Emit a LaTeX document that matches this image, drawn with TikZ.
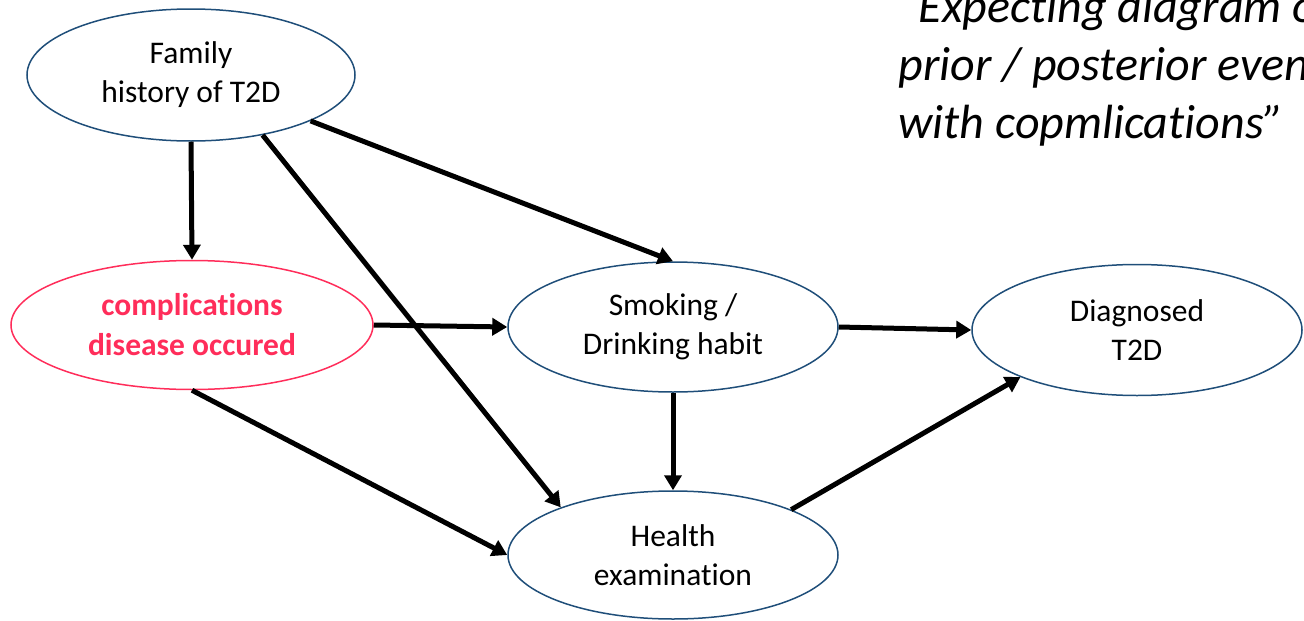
\documentclass[tikz,border=0pt]{standalone}
\usepackage{fontspec}
\setmainfont{Carlito}[Ligatures={NoCommon}]
\usetikzlibrary{shapes.geometric,arrows.meta}
\definecolor{edgeblue}{HTML}{1F4E79}
\definecolor{alertred}{HTML}{FF2D5A}
\begin{document}
\begin{tikzpicture}[x=1pt,y=-1pt,
  event/.style={ellipse, draw=edgeblue, line width=1.5pt, inner sep=0pt,
    align=center, minimum width=330pt, minimum height=130pt,
    font=\fontsize{31.5}{39}\selectfont},
  alert/.style={draw=alertred, text=alertred, font=\fontsize{31.5}{40}\selectfont\bfseries},
  link/.style={line width=5pt, -{Triangle[length=15pt,width=17pt]}},
  note/.style={anchor=base west, font=\fontsize{48}{58}\selectfont\itshape},
]
\useasboundingbox (0,0) rectangle (1304,621);
\clip (0,0) rectangle (1304,621);

% events
\node[event, minimum width=328pt, minimum height=132pt] (fam) at (191,75) {Family\\history of T2D};
\node[event, alert, minimum width=362pt, minimum height=129pt] (com) at (192,325) {complications\\disease occured};
\node[event] (smo) at (673,327) {Smoking /\\Drinking habit};
\node[event, minimum height=131pt] (dia) at (1137,330) {Diagnosed\\T2D};
\node[event, minimum height=128pt] (hea) at (673,555) {Health\\examination};

% side note
\node[note] (q1) at (895,22) {“Expecting diagram of};
\node[note] (q2) at (895,80) {prior / posterior events};
\node[note] (q3) at (895,138) {with copmlications”};

% dependencies
\draw[link] (fam.south) -- (com.north);
\draw[link] (fam.-40) -- (hea.157);
\draw[link] (fam.-21) -- (smo.north);
\draw[link] (com.east) -- (smo.west);
\draw[link] (com.south) -- (hea.west);
\draw[link] (smo.south) -- (hea.north);
\draw[link] (smo.east) -- (dia.west);
\draw[link] (hea.21) -- (dia.202);
\end{tikzpicture}
\end{document}
